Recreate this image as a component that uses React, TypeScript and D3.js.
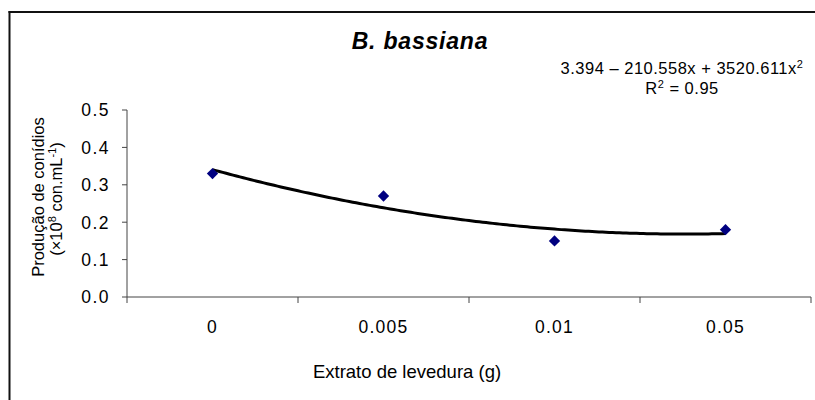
import React from "react";
import * as d3 from "d3";

const categories = ["0", "0.005", "0.01", "0.05"];
const conidia = [0.33, 0.27, 0.15, 0.18];
const yTicks = [0, 0.1, 0.2, 0.3, 0.4, 0.5];
const titleText = "B. bassiana";
const xLabel = "Extrato de levedura (g)";

const W = 815;
const H = 400;
const FONT = "'Liberation Sans', Arial, sans-serif";

// Excel-style polynomial (order 2) trendline over category index 1..n
function quadFit(ys: number[]) {
  const xs = ys.map((_, i) => i + 1);
  const s = [0, 0, 0, 0, 0];
  const t = [0, 0, 0];
  xs.forEach((x, i) => {
    for (let k = 0; k <= 4; k++) s[k] += Math.pow(x, k);
    for (let k = 0; k <= 2; k++) t[k] += Math.pow(x, k) * ys[i];
  });
  const A = [
    [s[0], s[1], s[2], t[0]],
    [s[1], s[2], s[3], t[1]],
    [s[2], s[3], s[4], t[2]],
  ];
  for (let i = 0; i < 3; i++) {
    for (let j = i + 1; j < 3; j++) {
      const f = A[j][i] / A[i][i];
      for (let k = i; k < 4; k++) A[j][k] -= f * A[i][k];
    }
  }
  const c = [0, 0, 0];
  for (let i = 2; i >= 0; i--) {
    let v = A[i][3];
    for (let k = i + 1; k < 3; k++) v -= A[i][k] * c[k];
    c[i] = v / A[i][i];
  }
  return (x: number) => c[0] + c[1] * x + c[2] * x * x;
}

export default function App() {
  const left = 127;
  const right = 811;
  const top = 110;
  const bottom = 297;

  const x = d3.scaleBand<string>().domain(categories).range([left, right]).padding(0);
  const y = d3.scaleLinear().domain([0, 0.5]).range([bottom, top]);
  const cx = (c: string) => (x(c) as number) + x.bandwidth() / 2;
  const idx = d3
    .scaleLinear()
    .domain([1, categories.length])
    .range([cx(categories[0]), cx(categories[categories.length - 1])]);

  const fit = quadFit(conidia);
  const samples = d3.range(1, categories.length + 0.0001, 0.02);
  const trend = d3
    .line<number>()
    .x((d) => idx(d))
    .y((d) => y(fit(d)))
    .curve(d3.curveLinear)(samples) as string;

  const diamond = d3.symbol().type(d3.symbolSquare).size(64)() as string;
  const xTickPos = [...categories.map((c) => x(c) as number), right];

  return (
    <svg
      width={W}
      height={H}
      style={{ position: "absolute", left: 0, top: 0, background: "#fff" }}
      fontFamily={FONT}
    >
      <rect x={0} y={0} width={W} height={H} fill="#fff" />
      {/* chart area border */}
      <line x1={9.5} y1={11} x2={9.5} y2={H} stroke="#111" strokeWidth={2} />
      <line x1={8.5} y1={12} x2={W} y2={12} stroke="#111" strokeWidth={2} />

      {/* title */}
      <text x={420} y={49} textAnchor="middle" fontSize={23} fontWeight="bold" fontStyle="italic" letterSpacing={0.8}>
        {titleText}
      </text>

      {/* equation */}
      <text x={682} y={74} textAnchor="middle" fontSize={16.5} letterSpacing={0.5}>
        3.394 – 210.558x + 3520.611x
        <tspan dy={-6} fontSize={11}>2</tspan>
      </text>
      <text x={682} y={94} textAnchor="middle" fontSize={16.5} letterSpacing={0.5}>
        R<tspan dy={-6} fontSize={11}>2</tspan>
        <tspan dy={6}> = 0.95</tspan>
      </text>

      {/* y axis */}
      <line x1={left} y1={top} x2={left} y2={bottom} stroke="#444" strokeWidth={1} />
      {yTicks.map((t) => (
        <g key={t}>
          <line x1={left - 5} x2={left} y1={y(t)} y2={y(t)} stroke="#444" />
          <text x={110} y={y(t)} dy="0.36em" textAnchor="end" fontSize={17.5} letterSpacing={1.5}>
            {d3.format(".1f")(t)}
          </text>
        </g>
      ))}

      {/* x axis */}
      <line x1={left} y1={bottom} x2={right} y2={bottom} stroke="#444" strokeWidth={1} />
      {xTickPos.map((p, i) => (
        <line key={i} x1={p} x2={p} y1={bottom} y2={bottom + 6} stroke="#444" />
      ))}
      {categories.map((c) => (
        <text key={c} x={cx(c)} y={333} textAnchor="middle" fontSize={17.5} letterSpacing={1.2}>
          {c}
        </text>
      ))}

      {/* axis titles */}
      <text x={407} y={378} textAnchor="middle" fontSize={18.5}>
        {xLabel}
      </text>
      <g transform="translate(44,197) rotate(-90)">
        <text x={0} y={0} textAnchor="middle" fontSize={16.5}>
          Produção de conídios
        </text>
      </g>
      <g transform="translate(62,199) rotate(-90)">
        <text x={0} y={0} textAnchor="middle" fontSize={16.5}>
          (×10<tspan dy={-6} fontSize={11}>8</tspan>
          <tspan dy={6}> con.mL</tspan>
          <tspan dy={-6} fontSize={11}>-1</tspan>
          <tspan dy={6}>)</tspan>
        </text>
      </g>

      {/* trendline */}
      <path d={trend} fill="none" stroke="#000" strokeWidth={3} strokeLinejoin="round" />

      {/* data points */}
      {categories.map((c, i) => (
        <path
          key={c}
          d={diamond}
          transform={`translate(${cx(c)},${y(conidia[i])}) rotate(45)`}
          fill="#000080"
        />
      ))}
    </svg>
  );
}
